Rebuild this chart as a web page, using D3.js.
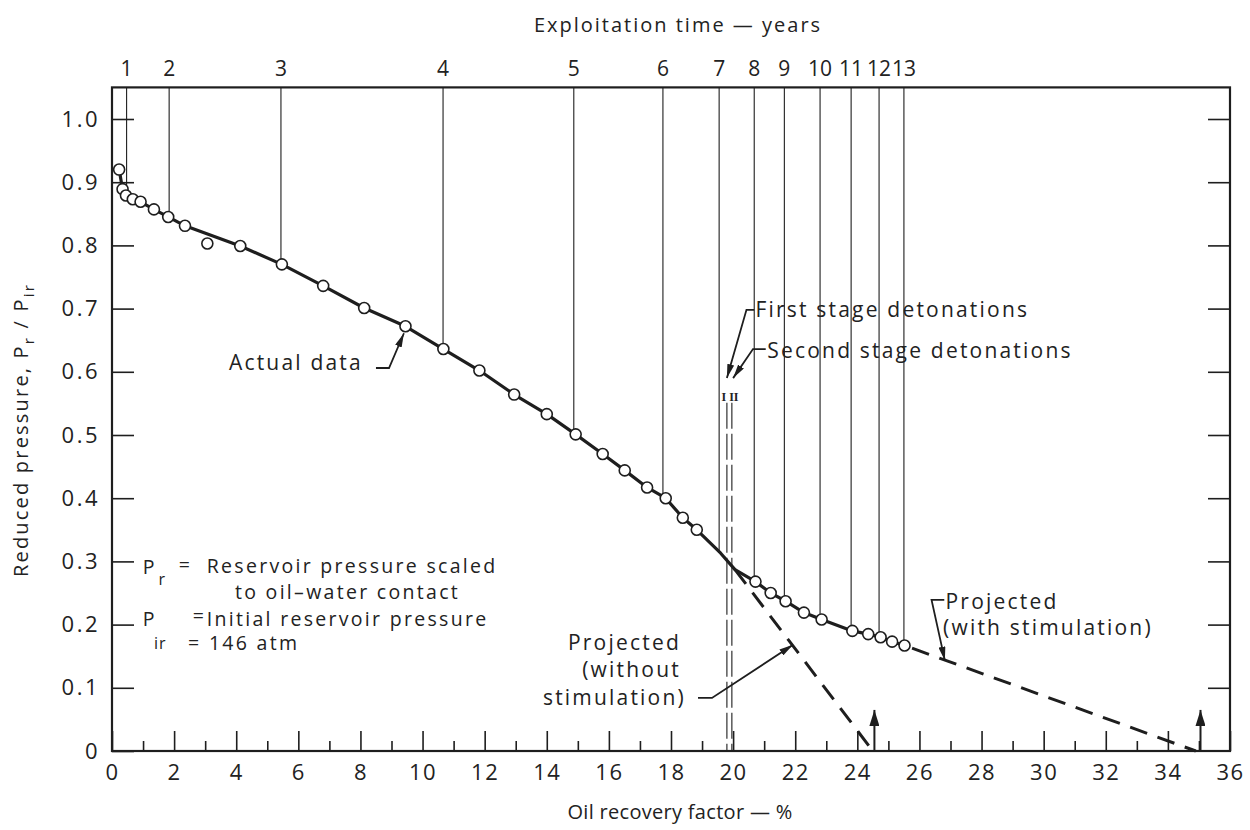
<!DOCTYPE html>
<html>
<head>
<meta charset="utf-8">
<script src="https://cdn.jsdelivr.net/npm/d3@7"></script>
<style>
  body { margin: 0; background: #fff; }
  text { font-family: "Open Sans", Lato, sans-serif; fill: #222; }
</style>
</head>
<body>
<div id="chart"></div>
<script>
// measured points (oil recovery %, reduced pressure)
const recovery = [0.23, 0.34, 0.45, 0.67, 0.92, 1.35, 1.81, 2.35, 3.07, 4.13, 5.47, 6.80, 8.12, 9.45,
  10.67, 11.83, 12.95, 14.0, 14.93, 15.80, 16.51, 17.23, 17.83, 18.38, 18.83,
  20.72, 21.21, 21.69, 22.28, 22.85, 23.84, 24.35, 24.75, 25.12, 25.52];
const pressure = [0.920, 0.889, 0.879, 0.873, 0.869, 0.857, 0.845, 0.831, 0.803, 0.799, 0.770, 0.736, 0.701, 0.672,
  0.636, 0.602, 0.564, 0.533, 0.501, 0.470, 0.444, 0.417, 0.400, 0.369, 0.350,
  0.268, 0.250, 0.237, 0.219, 0.208, 0.190, 0.185, 0.180, 0.173, 0.167];

// drawn trend line through the data
const curveRecovery = [0.23, 0.34, 0.45, 0.67, 0.92, 1.35, 1.81, 2.35, 4.13, 5.47, 6.80, 8.12, 9.45,
  10.67, 11.83, 12.95, 14.0, 14.93, 15.80, 16.51, 17.23, 17.83, 18.38, 18.83, 19.6, 20.06,
  20.72, 21.21, 21.69, 22.28, 22.85, 23.84, 24.35, 24.75, 25.12, 25.52];
const curvePressure = [0.920, 0.889, 0.879, 0.873, 0.869, 0.857, 0.845, 0.831, 0.799, 0.770, 0.736, 0.701, 0.672,
  0.636, 0.602, 0.564, 0.533, 0.501, 0.470, 0.444, 0.417, 0.400, 0.369, 0.350, 0.313, 0.287,
  0.268, 0.250, 0.237, 0.219, 0.208, 0.190, 0.185, 0.180, 0.173, 0.167];

// projections
const projNoStimX = [20.06, 24.5];
const projNoStimY = [0.287, 0.0];
const projStimX = [25.52, 34.9];
const projStimY = [0.167, 0.0];
const limitArrows = [24.55, 35.05];

// exploitation years (top axis)
const years = ["1", "2", "3", "4", "5", "6", "7", "8", "9", "10", "11", "12", "13"];
const yearRecovery = [0.47, 1.84, 5.44, 10.66, 14.87, 17.74, 19.55, 20.68, 21.65, 22.8, 23.8, 24.7, 25.5];
const yearPressure = [0.879, 0.845, 0.770, 0.636, 0.501, 0.400, 0.316, 0.268, 0.237, 0.208, 0.190, 0.180, 0.167];

// detonation stages
const stages = ["I", "II"];
const stageRecovery = [19.8, 19.96];

const xTicks = d3.range(0, 37, 2);
const xMinor = d3.range(1, 36, 2);
const yTicks = d3.range(0, 11).map(d => d / 10);

const width = 1250, height = 830;
const x = d3.scaleLinear().domain([0, 36]).range([112, 1230]);
const y = d3.scaleLinear().domain([0, 1]).range([751, 119]);
const ink = "#1e1e1e";

const svg = d3.select("#chart").append("svg")
    .attr("width", width)
    .attr("height", height);

const defs = svg.append("defs");
defs.append("marker")
    .attr("id", "head")
    .attr("viewBox", "0 0 12 6")
    .attr("refX", 12).attr("refY", 3)
    .attr("markerWidth", 14).attr("markerHeight", 7)
    .attr("markerUnits", "userSpaceOnUse")
    .attr("orient", "auto")
  .append("path")
    .attr("d", "M0,0 L12,3 L0,6 Z")
    .attr("fill", ink);
defs.append("marker")
    .attr("id", "bighead")
    .attr("viewBox", "0 0 16 10")
    .attr("refX", 16).attr("refY", 5)
    .attr("markerWidth", 16).attr("markerHeight", 10)
    .attr("markerUnits", "userSpaceOnUse")
    .attr("orient", "auto")
  .append("path")
    .attr("d", "M0,0 L16,5 L0,10 Z")
    .attr("fill", ink);

// frame
svg.append("rect")
    .attr("x", x(0)).attr("y", y(1.05))
    .attr("width", x(36) - x(0)).attr("height", y(0) - y(1.05))
    .attr("fill", "none").attr("stroke", ink).attr("stroke-width", 2.2);

function styleAxis(g) {
  g.select(".domain").remove();
  g.selectAll("line").attr("stroke", ink).attr("stroke-width", 1.6);
  g.selectAll("text").attr("fill", "#222").style("font-size", "22px")
      .attr("letter-spacing", "1.5px")
      .style("font-family", "\"Open Sans\", Lato, sans-serif");
}

// bottom axis, ticks pointing in
svg.append("g")
    .attr("transform", `translate(0,${y(0)})`)
    .call(d3.axisBottom(x).tickValues(xTicks).tickSize(-20).tickPadding(13).tickFormat(d3.format("d")))
    .call(styleAxis);
svg.append("g")
    .attr("transform", `translate(0,${y(0)})`)
    .call(d3.axisBottom(x).tickValues(xMinor).tickSize(-10).tickFormat(""))
    .call(styleAxis);

// left axis
svg.append("g")
    .attr("transform", `translate(${x(0)},0)`)
    .call(d3.axisLeft(y).tickValues(yTicks).tickSize(-22).tickPadding(12)
        .tickFormat(d => d === 0 ? "0" : d3.format(".1f")(d)))
    .call(styleAxis)
    .call(g => g.selectAll("text").attr("letter-spacing", "2.5px"));

// right axis
svg.append("g")
    .attr("transform", `translate(${x(36)},0)`)
    .call(d3.axisRight(y).tickValues(yTicks.slice(1)).tickSize(-22).tickFormat(""))
    .call(styleAxis);

// year lines
svg.append("g").selectAll("line")
  .data(years)
  .join("line")
    .attr("x1", (d, i) => x(yearRecovery[i]))
    .attr("x2", (d, i) => x(yearRecovery[i]))
    .attr("y1", y(1.05))
    .attr("y2", (d, i) => y(yearPressure[i]))
    .attr("stroke", ink).attr("stroke-width", 1.1);

svg.append("g").selectAll("text")
  .data(years)
  .join("text")
    .attr("x", (d, i) => x(yearRecovery[i]))
    .attr("y", 76)
    .attr("text-anchor", "middle")
    .style("font-size", "21px")
    .text(d => d);

// detonation dashed lines
svg.append("g").selectAll("line")
  .data(stages)
  .join("line")
    .attr("x1", (d, i) => x(stageRecovery[i]))
    .attr("x2", (d, i) => x(stageRecovery[i]))
    .attr("y1", y(0.551))
    .attr("y2", y(0))
    .attr("stroke", ink).attr("stroke-width", 1.1)
    .attr("stroke-dasharray", "26,5");

svg.append("g").selectAll("text")
  .data(stages)
  .join("text")
    .attr("x", (d, i) => x(stageRecovery[i]) + (i === 0 ? -3 : 2))
    .attr("y", y(0.551) - 2)
    .attr("text-anchor", "middle")
    .style("font-family", "\"Liberation Serif\", serif")
    .style("font-size", "12px")
    .style("font-weight", "bold")
    .text(d => d);

const line = d3.line().x(d => x(d[0])).y(d => y(d[1]));

// trend line
svg.append("path")
    .datum(curveRecovery.map((v, i) => [v, curvePressure[i]]))
    .attr("fill", "none").attr("stroke", ink).attr("stroke-width", 3.2)
    .attr("stroke-linejoin", "round")
    .attr("d", line);

// projections
svg.append("path")
    .datum(projNoStimX.map((v, i) => [v, projNoStimY[i]]))
    .attr("fill", "none").attr("stroke", ink).attr("stroke-width", 3)
    .attr("stroke-dasharray", "18,11")
    .attr("d", line);
svg.append("path")
    .datum(projStimX.map((v, i) => [v, projStimY[i]]))
    .attr("fill", "none").attr("stroke", ink).attr("stroke-width", 3)
    .attr("stroke-dasharray", "18,11")
    .attr("stroke-dashoffset", -8)
    .attr("d", line);

// limit arrows
svg.append("g").selectAll("path")
  .data(limitArrows)
  .join("path")
    .attr("d", d => line([[d, 0], [d, 0.065]]))
    .attr("stroke", ink).attr("stroke-width", 2)
    .attr("marker-end", "url(#bighead)");

// data points
svg.append("g").selectAll("circle")
  .data(recovery)
  .join("circle")
    .attr("cx", d => x(d))
    .attr("cy", (d, i) => y(pressure[i]))
    .attr("r", 5.5)
    .attr("fill", "#fff")
    .attr("stroke", ink)
    .attr("stroke-width", 1.6);

// annotations
function leader(pts) {
  svg.append("path")
      .datum(pts)
      .attr("fill", "none").attr("stroke", ink).attr("stroke-width", 1.8)
      .attr("marker-end", "url(#head)")
      .attr("d", line);
}
function label(txt, xv, yv, anchor, size, spacing) {
  return svg.append("text")
      .attr("x", x(xv)).attr("y", y(yv))
      .attr("dy", "0.35em")
      .attr("text-anchor", anchor || "start")
      .attr("letter-spacing", (spacing || 2.2) + "px")
      .style("font-size", (size || 21) + "px")
      .text(txt);
}

label("Actual data", 8.08, 0.614, "end");
leader([[8.5, 0.606], [8.92, 0.606], [9.4, 0.661]]);

label("First stage detonations", 20.72, 0.698);
leader([[20.68, 0.698], [20.43, 0.698], [19.8, 0.59]]);
label("Second stage detonations", 21.1, 0.634);
leader([[21.05, 0.636], [20.64, 0.636], [20.0, 0.59]]);

label("Projected", 18.32, 0.171, "end");
label("(without", 18.32, 0.128, "end");
label("stimulation)", 18.48, 0.085, "end");
leader([[18.87, 0.084], [19.32, 0.084], [21.93, 0.168]]);

label("Projected", 26.84, 0.236);
label("(with stimulation)", 26.76, 0.195);
leader([[26.8, 0.239], [26.39, 0.239], [26.82, 0.143]]);

// definitions block
label("P", 0.99, 0.291, "start", 19.5, 2);
label("r", 1.5, 0.272, "start", 16, 1);
label("=", 2.15, 0.294, "start", 19.5, 2);
label("Reservoir pressure scaled", 3.05, 0.293, "start", 19.5, 2.3);
label("to oil\u2013water contact", 3.96, 0.252, "start", 19.5, 2.3);
label("P", 0.99, 0.209, "start", 19.5, 2);
label("ir", 1.35, 0.171, "start", 16, 1);
label("=", 2.6, 0.213, "start", 19.5, 2);
label("Initial reservoir pressure", 3.05, 0.209, "start", 19.5, 2.3);
label("= 146 atm", 2.45, 0.171, "start", 19.5, 2.3);

// axis titles
svg.append("text")
    .attr("x", 678).attr("y", 32)
    .attr("text-anchor", "middle")
    .attr("letter-spacing", "2px")
    .style("font-size", "20px")
    .text("Exploitation time \u2014 years");

svg.append("text")
    .attr("x", 680).attr("y", 819)
    .attr("text-anchor", "middle")
    .attr("letter-spacing", "0.3px")
    .style("font-size", "20px")
    .text("Oil recovery factor \u2014 %");

const yTitle = svg.append("text")
    .attr("transform", "translate(28,430) rotate(-90)")
    .attr("text-anchor", "middle")
    .attr("letter-spacing", "2.2px")
    .style("font-size", "20px");
yTitle.append("tspan").text("Reduced pressure, P");
yTitle.append("tspan").attr("dy", 6).style("font-size", "15px").text("r");
yTitle.append("tspan").attr("dy", -6).text(" / P");
yTitle.append("tspan").attr("dy", 6).style("font-size", "15px").text("ir");
</script>
</body>
</html>
